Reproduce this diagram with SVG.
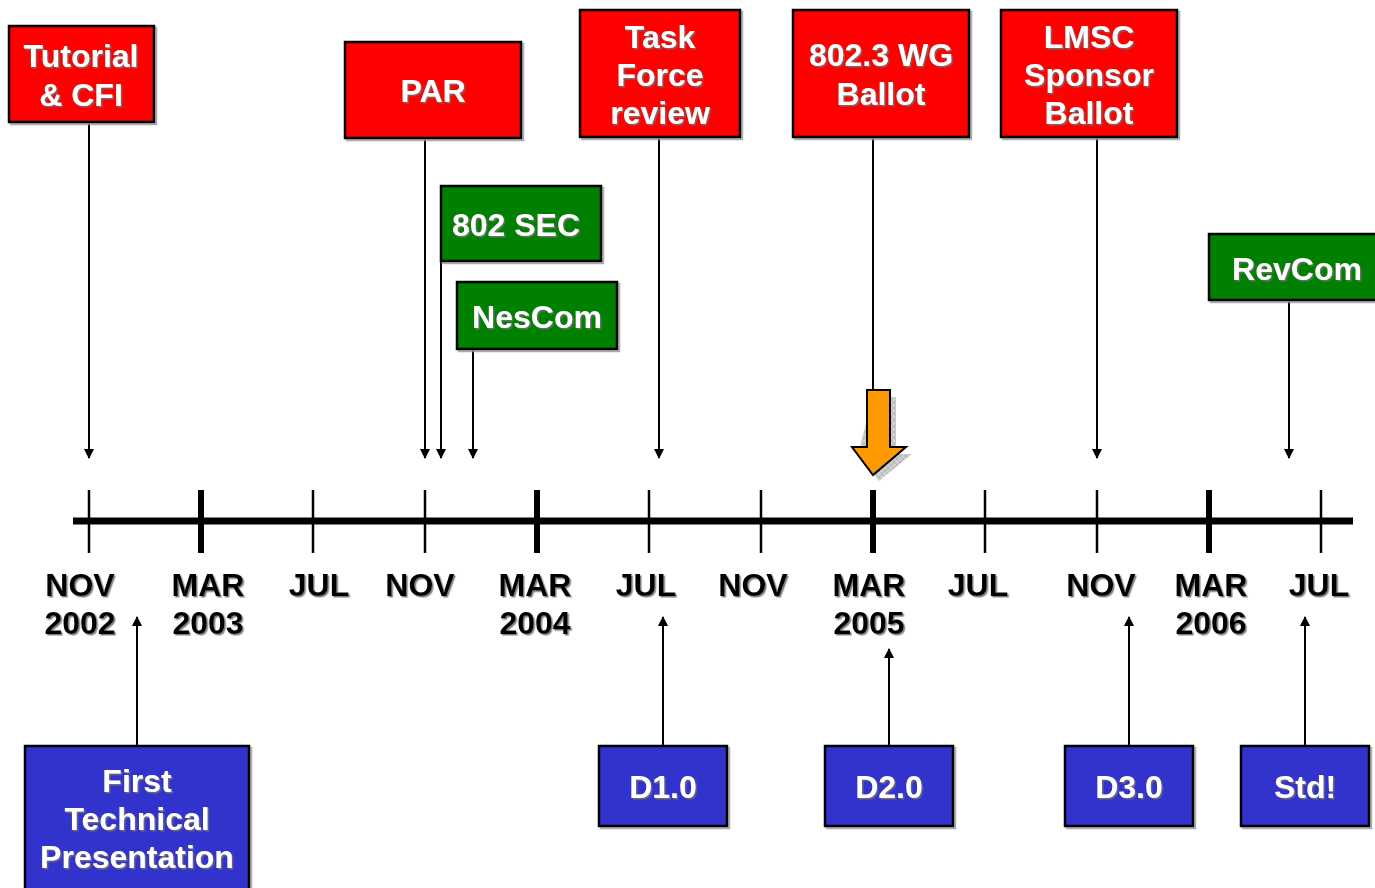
<svg xmlns="http://www.w3.org/2000/svg" width="1375" height="888" viewBox="0 0 1375 888">
<style>
.box{stroke:#000;stroke-width:2.5;filter:url(#bs)}
.red{fill:#ff0000}
.green{fill:#008000}
.blue{fill:#3333cc}
.t{font-family:"Liberation Sans",Arial,sans-serif;font-weight:bold;font-size:32px;text-anchor:middle;filter:url(#ts)}
.w{fill:#fff}
.k{fill:#000}
.c{stroke:#000;stroke-width:2;fill:none}
.tick{stroke:#000;stroke-width:2.5}
.tickb{stroke:#000;stroke-width:6}
</style>
<defs>
<filter id="ts" x="-10%" y="-20%" width="130%" height="150%">
<feDropShadow dx="1.5" dy="1.5" stdDeviation="0.6" flood-color="#707070" flood-opacity="0.9"/>
</filter>
<filter id="bs" x="-5%" y="-5%" width="115%" height="115%">
<feDropShadow dx="2" dy="2" stdDeviation="0.5" flood-color="#999" flood-opacity="0.8"/>
</filter>
<marker id="ah" viewBox="0 0 10 10" refX="9" refY="5" markerWidth="6" markerHeight="5" orient="auto" markerUnits="strokeWidth">
<path d="M0,0 L10,5 L0,10 z" fill="#000"/>
</marker>
<pattern id="hatch" width="6" height="6" patternUnits="userSpaceOnUse">
<rect width="6" height="6" fill="#d0d0d0"/>
<path d="M0,0 L6,6 M6,0 L0,6" stroke="#b0b0b0" stroke-width="0.8"/>
</pattern>
</defs>

<g id="timeline">
<line x1="73" y1="521" x2="1353" y2="521" stroke="#000" stroke-width="7"/>
<line class="tick" x1="89" y1="490" x2="89" y2="553"/>
<line class="tickb" x1="201" y1="490" x2="201" y2="553"/>
<line class="tick" x1="313" y1="490" x2="313" y2="553"/>
<line class="tick" x1="425" y1="490" x2="425" y2="553"/>
<line class="tickb" x1="537" y1="490" x2="537" y2="553"/>
<line class="tick" x1="649" y1="490" x2="649" y2="553"/>
<line class="tick" x1="761" y1="490" x2="761" y2="553"/>
<line class="tickb" x1="873" y1="490" x2="873" y2="553"/>
<line class="tick" x1="985" y1="490" x2="985" y2="553"/>
<line class="tick" x1="1097" y1="490" x2="1097" y2="553"/>
<line class="tickb" x1="1209" y1="490" x2="1209" y2="553"/>
<line class="tick" x1="1321" y1="490" x2="1321" y2="553"/>
</g>

<g id="labels">
<text class="t k" x="80" y="596">NOV</text>
<text class="t k" x="80" y="634">2002</text>
<text class="t k" x="208" y="596">MAR</text>
<text class="t k" x="208" y="634">2003</text>
<text class="t k" x="319" y="596">JUL</text>
<text class="t k" x="420" y="596">NOV</text>
<text class="t k" x="535" y="596">MAR</text>
<text class="t k" x="535" y="634">2004</text>
<text class="t k" x="646" y="596">JUL</text>
<text class="t k" x="753" y="596">NOV</text>
<text class="t k" x="869" y="596">MAR</text>
<text class="t k" x="869" y="634">2005</text>
<text class="t k" x="978" y="596">JUL</text>
<text class="t k" x="1101" y="596">NOV</text>
<text class="t k" x="1211" y="596">MAR</text>
<text class="t k" x="1211" y="634">2006</text>
<text class="t k" x="1319" y="596">JUL</text>
</g>

<g id="connectors">
<line class="c" x1="89" y1="122" x2="89" y2="458" marker-end="url(#ah)"/>
<line class="c" x1="425" y1="138" x2="425" y2="458" marker-end="url(#ah)"/>
<line class="c" x1="441" y1="261" x2="441" y2="458" marker-end="url(#ah)"/>
<line class="c" x1="473" y1="349" x2="473" y2="458" marker-end="url(#ah)"/>
<line class="c" x1="659" y1="137" x2="659" y2="458" marker-end="url(#ah)"/>
<line class="c" x1="873" y1="137" x2="873" y2="392"/>
<line class="c" x1="1097" y1="137" x2="1097" y2="458" marker-end="url(#ah)"/>
<line class="c" x1="1289" y1="300" x2="1289" y2="458" marker-end="url(#ah)"/>
<line class="c" x1="137" y1="746" x2="137" y2="617" marker-end="url(#ah)"/>
<line class="c" x1="663" y1="746" x2="663" y2="617" marker-end="url(#ah)"/>
<line class="c" x1="889" y1="746" x2="889" y2="649" marker-end="url(#ah)"/>
<line class="c" x1="1129" y1="746" x2="1129" y2="617" marker-end="url(#ah)"/>
<line class="c" x1="1305" y1="746" x2="1305" y2="617" marker-end="url(#ah)"/>
</g>

<g id="milestone-arrow">
<path d="M873,397 H896 V454 H912 L879,481 L858,454 Z" fill="url(#hatch)"/>
<path d="M867,390 H890 V447 H906 L873,475 L852,447 H867 Z" fill="#ff9900" stroke="#000" stroke-width="2" stroke-linejoin="miter"/>
</g>

<g id="tutorial">
<rect class="box red" x="9" y="26" width="145" height="96"/>
<text class="t w" x="81" y="67">Tutorial</text>
<text class="t w" x="81" y="106">&amp; CFI</text>
</g>
<g id="par">
<rect class="box red" x="345" y="42" width="176" height="96"/>
<text class="t w" x="433" y="102">PAR</text>
</g>
<g id="taskforce">
<rect class="box red" x="580" y="10" width="160" height="127"/>
<text class="t w" x="660" y="48">Task</text>
<text class="t w" x="660" y="86">Force</text>
<text class="t w" x="660" y="124">review</text>
</g>
<g id="wgballot">
<rect class="box red" x="793" y="10" width="176" height="127"/>
<text class="t w" x="881" y="66">802.3 WG</text>
<text class="t w" x="881" y="105">Ballot</text>
</g>
<g id="lmsc">
<rect class="box red" x="1001" y="10" width="176" height="127"/>
<text class="t w" x="1089" y="48">LMSC</text>
<text class="t w" x="1089" y="86">Sponsor</text>
<text class="t w" x="1089" y="124">Ballot</text>
</g>
<g id="sec">
<rect class="box green" x="441" y="186" width="160" height="75"/>
<text class="t w" x="516" y="236">802 SEC</text>
</g>
<g id="nescom">
<rect class="box green" x="457" y="282" width="160" height="67"/>
<text class="t w" x="537" y="328">NesCom</text>
</g>
<g id="revcom">
<rect class="box green" x="1209" y="234" width="172" height="66"/>
<text class="t w" x="1297" y="280">RevCom</text>
</g>
<g id="firsttech">
<rect class="box blue" x="25" y="746" width="224" height="150"/>
<text class="t w" x="137" y="792">First</text>
<text class="t w" x="137" y="830">Technical</text>
<text class="t w" x="137" y="868">Presentation</text>
</g>
<g id="d1">
<rect class="box blue" x="599" y="746" width="128" height="80"/>
<text class="t w" x="663" y="798">D1.0</text>
</g>
<g id="d2">
<rect class="box blue" x="825" y="746" width="128" height="80"/>
<text class="t w" x="889" y="798">D2.0</text>
</g>
<g id="d3">
<rect class="box blue" x="1065" y="746" width="128" height="80"/>
<text class="t w" x="1129" y="798">D3.0</text>
</g>
<g id="std">
<rect class="box blue" x="1241" y="746" width="128" height="80"/>
<text class="t w" x="1305" y="798">Std!</text>
</g>
</svg>
